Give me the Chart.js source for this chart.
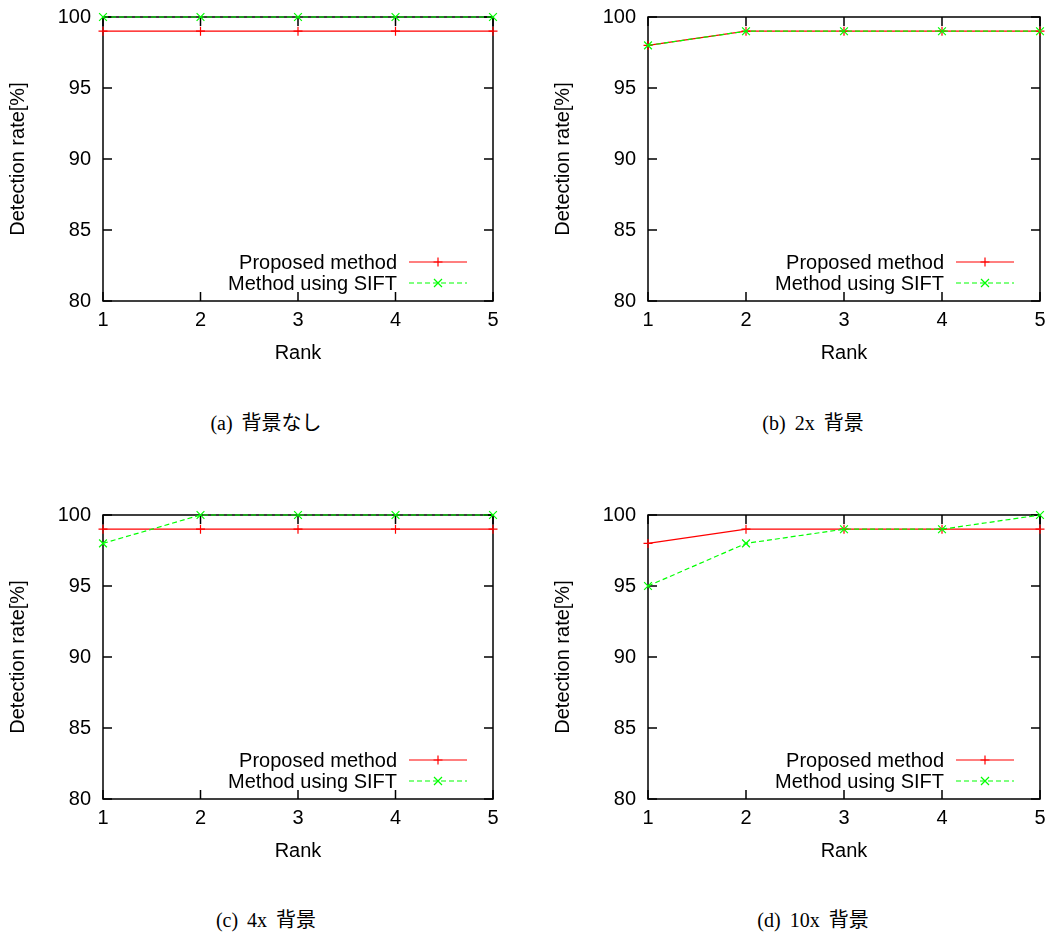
<!DOCTYPE html>
<html>
<head>
<meta charset="utf-8">
<script src="https://cdn.jsdelivr.net/npm/chart.js@4.4.1/dist/chart.umd.min.js"></script>
<style>
body { margin: 0; background: #fff; width: 1048px; height: 938px; position: relative; overflow: hidden; }
canvas { position: absolute; }
.cap { position: absolute; width: 400px; text-align: center; line-height: 24px; word-spacing: 4px;
       font-family: "Liberation Serif", "Noto Sans CJK JP", serif; font-size: 20px; color: #000; }
</style>
</head>
<body>
<canvas id="ca" width="520" height="380" style="left:0;top:0"></canvas>
<canvas id="cb" width="503" height="380" style="left:545px;top:0"></canvas>
<canvas id="cc" width="520" height="380" style="left:0;top:498px"></canvas>
<canvas id="cd" width="503" height="380" style="left:545px;top:498px"></canvas>
<div class="cap" style="left:66px;top:411px">(a) 背景なし</div>
<div class="cap" style="left:613px;top:411px">(b) 2x 背景</div>
<div class="cap" style="left:66px;top:908px">(c) 4x 背景</div>
<div class="cap" style="left:613px;top:908px">(d) 10x 背景</div>
<script>
const ranks = ['1', '2', '3', '4', '5'];
const yTicks = [80, 85, 90, 95, 100];

const proposedA = [99, 99, 99, 99, 99];
const siftA = [100, 100, 100, 100, 100];
const proposedB = [98, 99, 99, 99, 99];
const siftB = [98, 99, 99, 99, 99];
const proposedC = [99, 99, 99, 99, 99];
const siftC = [98, 100, 100, 100, 100];
const proposedD = [98, 99, 99, 99, 99];
const siftD = [95, 98, 99, 99, 100];

const seriesNames = ['Proposed method', 'Method using SIFT'];
const RED = '#ff0000';
const GREEN = '#00ff00';
const FONT = '"Liberation Sans", Arial, sans-serif';

Chart.defaults.color = '#000';
Chart.defaults.font.family = FONT;
Chart.defaults.font.size = 20;

function mark(ctx, style, x, y, r) {
    ctx.beginPath();
    if (style === 'cross') {
        ctx.moveTo(x - r, y); ctx.lineTo(x + r, y);
        ctx.moveTo(x, y - r); ctx.lineTo(x, y + r);
    } else {
        ctx.moveTo(x - r, y - r); ctx.lineTo(x + r, y + r);
        ctx.moveTo(x - r, y + r); ctx.lineTo(x + r, y - r);
    }
    ctx.stroke();
}

const framePlugin = {
    id: 'frame',
    beforeDatasetsDraw(chart) {
        const { ctx, chartArea: a, scales: { x, y } } = chart;
        ctx.save();
        ctx.strokeStyle = '#000';
        ctx.lineWidth = 1.5;
        ctx.strokeRect(a.left, a.top, a.right - a.left, a.bottom - a.top);
        ctx.beginPath();
        y.ticks.forEach(t => {
            const py = y.getPixelForValue(t.value);
            ctx.moveTo(a.left, py); ctx.lineTo(a.left + 9, py);
            ctx.moveTo(a.right, py); ctx.lineTo(a.right - 9, py);
        });
        x.ticks.forEach((t, i) => {
            const px = x.getPixelForTick(i);
            ctx.moveTo(px, a.bottom); ctx.lineTo(px, a.bottom - 9);
            ctx.moveTo(px, a.top); ctx.lineTo(px, a.top + 9);
        });
        ctx.stroke();
        ctx.restore();
    },
    afterDraw(chart) {
        const { ctx, chartArea: a } = chart;
        ctx.save();
        ctx.font = '20px ' + FONT;
        ctx.textAlign = 'right';
        ctx.textBaseline = 'middle';
        chart.data.datasets.forEach((ds, i) => {
            const ly = a.bottom - 39 + 21 * i;
            ctx.fillStyle = '#000';
            ctx.fillText(ds.label, a.right - 96, ly + 1);
            ctx.strokeStyle = ds.borderColor;
            ctx.lineWidth = 1.2;
            ctx.setLineDash(ds.borderDash || []);
            ctx.beginPath();
            ctx.moveTo(a.right - 84, ly);
            ctx.lineTo(a.right - 26, ly);
            ctx.stroke();
            ctx.setLineDash([]);
            mark(ctx, ds.pointStyle, a.right - 55, ly, ds.pointStyle === 'cross' ? 4.5 : 4);
        });
        ctx.restore();
    }
};

function makePanel(id, proposed, sift, rightPad) {
    new Chart(document.getElementById(id), {
        type: 'line',
        data: {
            labels: ranks,
            datasets: [{
                label: seriesNames[0],
                data: proposed,
                borderColor: RED,
                backgroundColor: RED,
                borderWidth: 1.2,
                pointStyle: 'cross',
                pointRadius: 4.5,
                pointBorderWidth: 1.2,
                tension: 0,
                clip: false,
                order: 1
            }, {
                label: seriesNames[1],
                data: sift,
                borderColor: GREEN,
                backgroundColor: GREEN,
                borderWidth: 1.2,
                borderDash: [5, 3],
                pointStyle: 'crossRot',
                pointRadius: 5.5,
                pointBorderWidth: 1.2,
                tension: 0,
                clip: false,
                order: 0
            }]
        },
        options: {
            responsive: false,
            devicePixelRatio: 1,
            animation: false,
            layout: { padding: { left: 0, top: 17, right: rightPad, bottom: 0 } },
            plugins: {
                legend: { display: false },
                tooltip: { enabled: false }
            },
            scales: {
                x: {
                    type: 'category',
                    offset: false,
                    grid: { display: false, drawTicks: false },
                    border: { display: false },
                    ticks: { padding: 7, maxRotation: 0, autoSkip: false },
                    title: { display: true, text: 'Rank', padding: { top: 0, bottom: 15 } },
                    afterFit(scale) {
                        scale.height = 79;
                        scale.paddingLeft = 0;
                        scale.paddingRight = 0;
                    }
                },
                y: {
                    min: 80,
                    max: 100,
                    afterBuildTicks(scale) { scale.ticks = yTicks.map(v => ({ value: v })); },
                    grid: { display: false, drawTicks: false },
                    border: { display: false },
                    ticks: { padding: 12 },
                    title: { display: true, text: 'Detection rate[%]', padding: { top: 6, bottom: 0 } },
                    afterFit(scale) {
                        scale.width = 103;
                        scale.paddingTop = 0;
                        scale.paddingBottom = 0;
                    }
                }
            }
        },
        plugins: [framePlugin]
    });
}

makePanel('ca', proposedA, siftA, 27);
makePanel('cb', proposedB, siftB, 8);
makePanel('cc', proposedC, siftC, 27);
makePanel('cd', proposedD, siftD, 8);
</script>
</body>
</html>
